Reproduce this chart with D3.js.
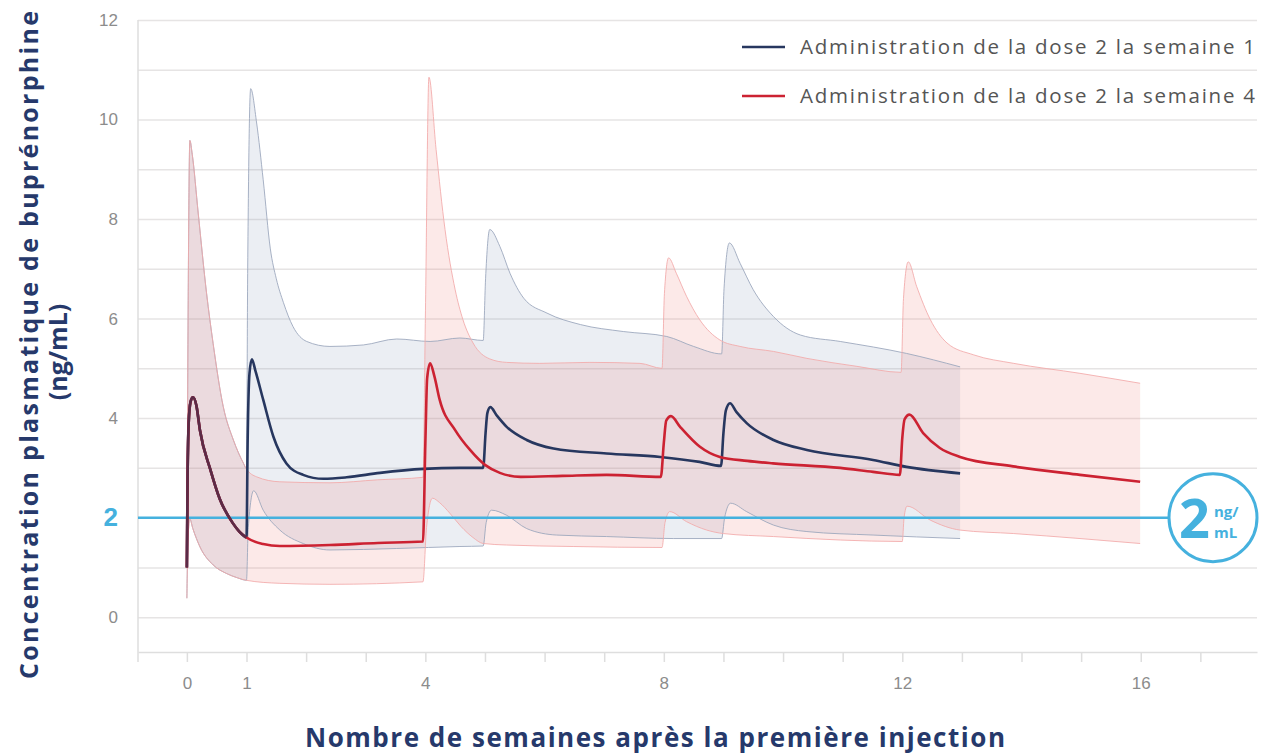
<!DOCTYPE html>
<html>
<head>
<meta charset="utf-8">
<script src="https://cdn.jsdelivr.net/npm/d3@7"></script>
<style>
  body { margin: 0; background: #fff; }
  svg { font-family: "Open Sans", "Noto Sans", sans-serif; }
</style>
</head>
<body>
<svg width="1262" height="754"></svg>
<script>
// axis ticks and labels
var weekTicks = d3.range(0, 18);
var weekLabels = [0, 1, 4, 8, 12, 16];
var concTicks = d3.range(0, 13);
var concLabels = [0, 2, 4, 6, 8, 10, 12];
var threshold = 2;
var legendLabels = ["Administration de la dose 2 la semaine 1", "Administration de la dose 2 la semaine 4"];

// weeks 0-1: both schedules are identical (first injection)
var sharedMedian = [[0,1.0],[0.01,2.6],[0.03,3.9],[0.06,4.32],[0.1,4.42],[0.16,4.25],[0.22,3.75],[0.39,2.98],[0.55,2.38],[0.77,1.89],[0.88,1.72],[1.0,1.6]];
var sharedUpper = [[0,1.0],[0.02,6.0],[0.05,9.58],[0.09,9.3],[0.19,8.12],[0.33,6.51],[0.44,5.5],[0.61,4.23],[0.78,3.56],[0.95,3.09],[1.0,2.98]];
var sharedLower = [[0,0.38],[0.02,1.6],[0.05,1.97],[0.1,1.78],[0.22,1.41],[0.44,1.05],[0.66,0.88],[0.85,0.79],[1.0,0.74]];

// dose 2 at week 1
var navyMedian = [[1.02,3.6],[1.05,4.9],[1.09,5.18],[1.15,4.95],[1.28,4.37],[1.45,3.63],[1.67,3.09],[1.95,2.86],[2.29,2.78],[2.68,2.81],[3.24,2.9],[3.97,2.98],[4.58,3.0],[4.97,3.0],[5.01,3.7],[5.04,4.1],[5.09,4.22],[5.2,4.05],[5.36,3.83],[5.7,3.56],[6.15,3.39],[7.04,3.29],[7.94,3.22],[8.6,3.12],[8.96,3.04],[9.0,3.7],[9.04,4.15],[9.11,4.3],[9.22,4.12],[9.39,3.9],[9.84,3.56],[10.4,3.36],[11.51,3.16],[12.07,3.02],[12.97,2.89]];
var navyUpper = [[1.02,7.0],[1.07,10.62],[1.17,9.93],[1.28,8.79],[1.4,7.4],[1.5,6.8],[1.62,6.32],[1.78,5.84],[2.01,5.54],[2.4,5.44],[2.96,5.47],[3.52,5.59],[4.08,5.54],[4.58,5.61],[4.97,5.56],[5.01,6.8],[5.08,7.79],[5.25,7.45],[5.42,6.91],[5.65,6.41],[6.04,6.11],[6.6,5.88],[7.32,5.74],[8.05,5.64],[8.5,5.44],[8.97,5.29],[9.01,6.6],[9.1,7.52],[9.28,7.11],[9.5,6.58],[9.84,6.04],[10.29,5.67],[10.96,5.54],[12.07,5.3],[12.97,5.03]];
var navyLower = [[1.03,1.8],[1.12,2.54],[1.28,2.15],[1.56,1.75],[1.95,1.48],[2.4,1.35],[3.52,1.38],[4.58,1.42],[4.97,1.43],[5.02,1.9],[5.11,2.15],[5.36,2.05],[5.7,1.78],[6.2,1.65],[7.04,1.62],[8.16,1.58],[8.97,1.58],[9.02,2.0],[9.12,2.29],[9.39,2.12],[9.84,1.85],[10.4,1.72],[11.51,1.65],[12.97,1.58]];

// dose 2 at week 4
var redMedian = [[1.28,1.47],[1.56,1.43],[2.4,1.45],[3.2,1.49],[3.96,1.52],[4.0,3.5],[4.03,4.8],[4.08,5.1],[4.15,4.85],[4.24,4.37],[4.5,3.76],[4.75,3.36],[5.0,3.06],[5.25,2.9],[5.6,2.82],[6.3,2.84],[7.04,2.86],[7.95,2.82],[8.0,3.5],[8.04,3.95],[8.12,4.04],[8.27,3.83],[8.6,3.43],[8.94,3.22],[9.4,3.14],[9.83,3.09],[10.96,3.0],[11.51,2.92],[11.96,2.86],[12.0,3.6],[12.04,3.98],[12.12,4.07],[12.35,3.7],[12.63,3.4],[12.97,3.22],[13.86,3.03],[14.98,2.86],[15.99,2.72]];
var redUpper = [[1.17,2.82],[1.56,2.72],[2.4,2.7],[3.2,2.76],[3.96,2.81],[4.0,6.0],[4.06,10.85],[4.18,9.4],[4.33,7.79],[4.5,6.58],[4.63,5.98],[4.8,5.51],[5.08,5.19],[5.36,5.12],[5.92,5.1],[6.76,5.12],[7.6,5.1],[7.97,5.0],[8.01,6.5],[8.08,7.22],[8.21,6.91],[8.38,6.45],[8.6,5.98],[8.94,5.57],[9.28,5.44],[9.84,5.34],[10.4,5.2],[11.24,5.04],[11.98,4.92],[12.02,6.4],[12.1,7.14],[12.24,6.65],[12.47,5.98],[12.75,5.51],[13.2,5.27],[13.87,5.1],[14.98,4.9],[15.99,4.7]];
var redLower = [[1.56,0.68],[2.4,0.66],[3.96,0.71],[4.02,1.8],[4.12,2.39],[4.24,2.3],[4.41,2.09],[4.6,1.82],[4.8,1.6],[4.97,1.48],[5.36,1.45],[6.48,1.42],[7.97,1.4],[8.02,1.9],[8.1,2.12],[8.38,1.92],[8.72,1.75],[9.0,1.68],[9.84,1.62],[10.96,1.55],[12.0,1.52],[12.03,2.0],[12.08,2.23],[12.47,1.95],[12.97,1.75],[13.87,1.68],[14.98,1.58],[15.99,1.48]];

var navy = "#27375f", red = "#cc2232", maroon = "#5b2b47", blue = "#45b1de", titleColor = "#26396b";

var svg = d3.select("svg");
var x = d3.scaleLinear().domain([-0.82, 17.95]).range([138, 1257]);
var y = d3.scaleLinear().domain([-0.7, 12]).range([652, 20]);

var line = d3.line()
    .x(function(d) { return x(d[0]); })
    .y(function(d) { return y(d[1]); })
    .curve(d3.curveMonotoneX);

function bandPath(upper, lower) {
    var back = line(lower.slice().reverse());
    return line(upper) + "L" + back.substring(1) + "Z";
}

// grid + left axis
var yAxis = svg.append("g")
    .attr("transform", "translate(138,0)")
    .call(d3.axisLeft(y)
        .tickValues(concTicks)
        .tickSize(-(1257 - 138))
        .tickPadding(20)
        .tickFormat(function(d) { return concLabels.indexOf(d) >= 0 ? d : ""; }));
yAxis.select(".domain").remove();
yAxis.selectAll(".tick line").attr("stroke", "#e6e4e4").attr("stroke-width", 1.5);
yAxis.selectAll(".tick text")
    .attr("fill", "#8c8c8c")
    .style("font-size", "17px")
    .style("font-family", "inherit");
yAxis.selectAll(".tick").filter(function(d) { return d == threshold; }).select("text")
    .attr("fill", blue)
    .style("font-size", "26px")
    .style("font-weight", "bold");

svg.append("line")
    .attr("x1", 138).attr("x2", 138)
    .attr("y1", y(12)).attr("y2", 662)
    .attr("stroke", "#dedede").attr("stroke-width", 1.5);

// bottom axis
var xAxis = svg.append("g")
    .attr("transform", "translate(0," + y(-0.7) + ")")
    .call(d3.axisBottom(x)
        .tickValues(weekTicks)
        .tickSize(10)
        .tickSizeOuter(0)
        .tickPadding(15)
        .tickFormat(function(d) { return weekLabels.indexOf(d) >= 0 ? d : ""; }));
xAxis.select(".domain").attr("stroke", "#dedede").attr("stroke-width", 1.5);
xAxis.selectAll(".tick line").attr("stroke", "#dedede").attr("stroke-width", 1.5);
xAxis.selectAll(".tick text")
    .attr("fill", "#8c8c8c")
    .style("font-size", "17px")
    .style("font-family", "inherit");

// bands
var navyUp = sharedUpper.concat(navyUpper), navyLo = sharedLower.concat(navyLower);
var redUp = sharedUpper.concat(redUpper), redLo = sharedLower.concat(redLower);

svg.append("path")
    .attr("d", bandPath(navyUp, navyLo))
    .attr("fill", "rgb(120,140,175)")
    .attr("fill-opacity", 0.15);
svg.append("path")
    .attr("d", bandPath(redUp, redLo))
    .attr("fill", "rgb(237,120,114)")
    .attr("fill-opacity", 0.165);

[navyUp, navyLo].forEach(function(d) {
    svg.append("path").attr("d", line(d))
        .attr("fill", "none").attr("stroke", "#99a4bb").attr("stroke-width", 1).attr("stroke-opacity", 0.85);
});
[redUp, redLo].forEach(function(d) {
    svg.append("path").attr("d", line(d))
        .attr("fill", "none").attr("stroke", "#f2a9a9").attr("stroke-width", 1).attr("stroke-opacity", 0.85);
});

// 2 ng/mL threshold
svg.append("line")
    .attr("x1", 138).attr("x2", 1170)
    .attr("y1", y(threshold)).attr("y2", y(threshold))
    .attr("stroke", blue).attr("stroke-width", 2.5);

// medians
svg.append("path")
    .attr("d", line(sharedMedian.concat(navyMedian)))
    .attr("fill", "none").attr("stroke", navy).attr("stroke-width", 2.6);
svg.append("path")
    .attr("d", line(sharedMedian.concat(redMedian)))
    .attr("fill", "none").attr("stroke", red).attr("stroke-width", 2.6);
svg.append("path")
    .attr("d", line(sharedMedian))
    .attr("fill", "none").attr("stroke", maroon).attr("stroke-width", 2.6);

// legend
var legend = svg.selectAll(".legend")
    .data(legendLabels)
    .enter().append("g")
    .attr("class", "legend")
    .attr("transform", function(d, i) { return "translate(742," + (47 + i * 49) + ")"; });
legend.append("line")
    .attr("x1", 0).attr("x2", 43)
    .attr("stroke", function(d, i) { return i == 0 ? navy : red; })
    .attr("stroke-width", 2.6);
legend.append("text")
    .attr("x", 58).attr("y", 7)
    .attr("fill", "#555")
    .style("font-size", "20.5px")
    .attr("textLength", 455)
    .attr("lengthAdjust", "spacing")
    .text(function(d) { return d; });

// badge
var badge = svg.append("g").attr("transform", "translate(1213," + y(threshold) + ")");
badge.append("circle")
    .attr("r", 44)
    .attr("fill", "#fff")
    .attr("stroke", blue)
    .attr("stroke-width", 3);
badge.append("text")
    .attr("x", -3).attr("y", 20)
    .attr("text-anchor", "end")
    .attr("fill", blue)
    .style("font-size", "54px")
    .style("font-weight", "bold")
    .text("2");
badge.append("text")
    .attr("x", 1).attr("y", -1)
    .attr("fill", blue)
    .style("font-size", "15px")
    .style("font-weight", "bold")
    .text("ng/");
badge.append("text")
    .attr("x", 1).attr("y", 20)
    .attr("fill", blue)
    .style("font-size", "15px")
    .style("font-weight", "bold")
    .text("mL");

// axis titles
svg.append("text")
    .attr("transform", "translate(38,345) rotate(-90)")
    .attr("text-anchor", "middle")
    .attr("fill", titleColor)
    .style("font-size", "25px")
    .style("font-weight", "bold")
    .attr("textLength", 668)
    .attr("lengthAdjust", "spacing")
    .text("Concentration plasmatique de buprénorphine");
svg.append("text")
    .attr("transform", "translate(67,352) rotate(-90)")
    .attr("text-anchor", "middle")
    .attr("fill", titleColor)
    .style("font-size", "25px")
    .style("font-weight", "bold")
    .text("(ng/mL)");
svg.append("text")
    .attr("x", 655).attr("y", 747)
    .attr("text-anchor", "middle")
    .attr("fill", titleColor)
    .style("font-size", "26px")
    .style("font-weight", "bold")
    .attr("textLength", 700)
    .attr("lengthAdjust", "spacing")
    .text("Nombre de semaines après la première injection");
</script>
</body>
</html>
